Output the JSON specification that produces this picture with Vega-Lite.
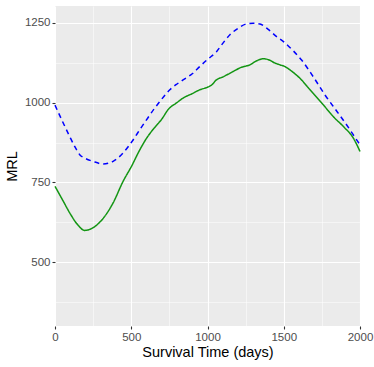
{
  "$schema": "https://vega.github.io/schema/vega-lite/v6.json",
  "width": 305,
  "height": 320,
  "autosize": {"type": "none"},
  "padding": {"left": 55, "top": 6, "right": 14, "bottom": 41},
  "background": "white",
  "config": {
    "view": {"fill": "#EBEBEB", "stroke": null},
    "font": "Liberation Sans"
  },
  "data": {
    "values": [
      {"t": 0, "mrl": 738, "s": "green"},
      {"t": 50, "mrl": 695, "s": "green"},
      {"t": 100, "mrl": 652, "s": "green"},
      {"t": 150, "mrl": 617, "s": "green"},
      {"t": 195, "mrl": 600, "s": "green"},
      {"t": 261, "mrl": 612, "s": "green"},
      {"t": 326, "mrl": 644, "s": "green"},
      {"t": 381, "mrl": 686, "s": "green"},
      {"t": 446, "mrl": 753, "s": "green"},
      {"t": 501, "mrl": 800, "s": "green"},
      {"t": 556, "mrl": 852, "s": "green"},
      {"t": 600, "mrl": 888, "s": "green"},
      {"t": 650, "mrl": 920, "s": "green"},
      {"t": 700, "mrl": 948, "s": "green"},
      {"t": 742, "mrl": 978, "s": "green"},
      {"t": 800, "mrl": 1000, "s": "green"},
      {"t": 840, "mrl": 1014, "s": "green"},
      {"t": 900, "mrl": 1028, "s": "green"},
      {"t": 950, "mrl": 1040, "s": "green"},
      {"t": 1000, "mrl": 1048, "s": "green"},
      {"t": 1027, "mrl": 1055, "s": "green"},
      {"t": 1059, "mrl": 1071, "s": "green"},
      {"t": 1100, "mrl": 1080, "s": "green"},
      {"t": 1168, "mrl": 1097, "s": "green"},
      {"t": 1220, "mrl": 1110, "s": "green"},
      {"t": 1278, "mrl": 1118, "s": "green"},
      {"t": 1320, "mrl": 1130, "s": "green"},
      {"t": 1365, "mrl": 1137, "s": "green"},
      {"t": 1400, "mrl": 1134, "s": "green"},
      {"t": 1440, "mrl": 1124, "s": "green"},
      {"t": 1475, "mrl": 1118, "s": "green"},
      {"t": 1510, "mrl": 1112, "s": "green"},
      {"t": 1541, "mrl": 1102, "s": "green"},
      {"t": 1606, "mrl": 1076, "s": "green"},
      {"t": 1672, "mrl": 1040, "s": "green"},
      {"t": 1759, "mrl": 993, "s": "green"},
      {"t": 1825, "mrl": 956, "s": "green"},
      {"t": 1891, "mrl": 925, "s": "green"},
      {"t": 1956, "mrl": 889, "s": "green"},
      {"t": 2000, "mrl": 847, "s": "green"},
      {"t": 0, "mrl": 992, "s": "blue"},
      {"t": 50, "mrl": 940, "s": "blue"},
      {"t": 96, "mrl": 894, "s": "blue"},
      {"t": 130, "mrl": 862, "s": "blue"},
      {"t": 162, "mrl": 837, "s": "blue"},
      {"t": 200, "mrl": 825, "s": "blue"},
      {"t": 249, "mrl": 816, "s": "blue"},
      {"t": 315, "mrl": 808, "s": "blue"},
      {"t": 381, "mrl": 816, "s": "blue"},
      {"t": 446, "mrl": 842, "s": "blue"},
      {"t": 512, "mrl": 883, "s": "blue"},
      {"t": 560, "mrl": 918, "s": "blue"},
      {"t": 600, "mrl": 946, "s": "blue"},
      {"t": 650, "mrl": 980, "s": "blue"},
      {"t": 687, "mrl": 1003, "s": "blue"},
      {"t": 753, "mrl": 1040, "s": "blue"},
      {"t": 800, "mrl": 1058, "s": "blue"},
      {"t": 840, "mrl": 1071, "s": "blue"},
      {"t": 900, "mrl": 1090, "s": "blue"},
      {"t": 950, "mrl": 1113, "s": "blue"},
      {"t": 1000, "mrl": 1135, "s": "blue"},
      {"t": 1059, "mrl": 1159, "s": "blue"},
      {"t": 1092, "mrl": 1180, "s": "blue"},
      {"t": 1147, "mrl": 1212, "s": "blue"},
      {"t": 1200, "mrl": 1232, "s": "blue"},
      {"t": 1256, "mrl": 1246, "s": "blue"},
      {"t": 1300, "mrl": 1248, "s": "blue"},
      {"t": 1344, "mrl": 1246, "s": "blue"},
      {"t": 1400, "mrl": 1228, "s": "blue"},
      {"t": 1453, "mrl": 1206, "s": "blue"},
      {"t": 1500, "mrl": 1190, "s": "blue"},
      {"t": 1562, "mrl": 1162, "s": "blue"},
      {"t": 1617, "mrl": 1133, "s": "blue"},
      {"t": 1693, "mrl": 1081, "s": "blue"},
      {"t": 1770, "mrl": 1024, "s": "blue"},
      {"t": 1857, "mrl": 967, "s": "blue"},
      {"t": 1934, "mrl": 915, "s": "blue"},
      {"t": 1978, "mrl": 883, "s": "blue"},
      {"t": 2000, "mrl": 868, "s": "blue"}
    ]
  },
  "mark": {"type": "line", "strokeWidth": 1.5, "interpolate": "monotone"},
  "encoding": {
    "x": {
      "field": "t",
      "type": "quantitative",
      "title": "Survival Time (days)",
      "scale": {"domain": [0, 2000], "nice": false, "zero": false},
      "axis": {
        "values": [0, 250, 500, 750, 1000, 1250, 1500, 1750, 2000],
        "labelExpr": "datum.value % 500 === 0 ? datum.label : ''",
        "format": "d",
        "domain": false,
        "grid": true,
        "gridColor": "white",
        "gridWidth": {"condition": {"test": "datum.value % 500 === 0", "value": 1.1}, "value": 0.5},
        "tickColor": "#333333",
        "tickSize": 3,
        "tickWidth": {"condition": {"test": "datum.value % 500 === 0", "value": 1.1}, "value": 0},
        "labelFontSize": 11.5,
        "labelColor": "#4D4D4D",
        "labelPadding": 2,
        "labelFlush": false,
        "titleFontSize": 14.5,
        "titleFontWeight": "normal",
        "titleColor": "black",
        "titlePadding": 3
      }
    },
    "y": {
      "field": "mrl",
      "type": "quantitative",
      "title": "MRL",
      "scale": {"domain": [301, 1302], "nice": false, "zero": false},
      "axis": {
        "values": [375, 500, 625, 750, 875, 1000, 1125, 1250],
        "labelExpr": "datum.value % 250 === 0 ? datum.label : ''",
        "format": "d",
        "domain": false,
        "grid": true,
        "gridColor": "white",
        "gridWidth": {"condition": {"test": "datum.value % 250 === 0", "value": 1.1}, "value": 0.5},
        "tickColor": "#333333",
        "tickSize": 3,
        "tickWidth": {"condition": {"test": "datum.value % 250 === 0", "value": 1.1}, "value": 0},
        "labelFontSize": 11.5,
        "labelColor": "#4D4D4D",
        "labelPadding": 2,
        "titleFontSize": 14.5,
        "titleFontWeight": "normal",
        "titleColor": "black",
        "titlePadding": 5
      }
    },
    "color": {
      "field": "s",
      "type": "nominal",
      "scale": {"domain": ["green", "blue"], "range": ["#139513", "#0000FF"]},
      "legend": null
    },
    "strokeDash": {
      "field": "s",
      "type": "nominal",
      "scale": {"domain": ["green", "blue"], "range": [[1, 0], [5, 4]]},
      "legend": null
    }
  }
}
